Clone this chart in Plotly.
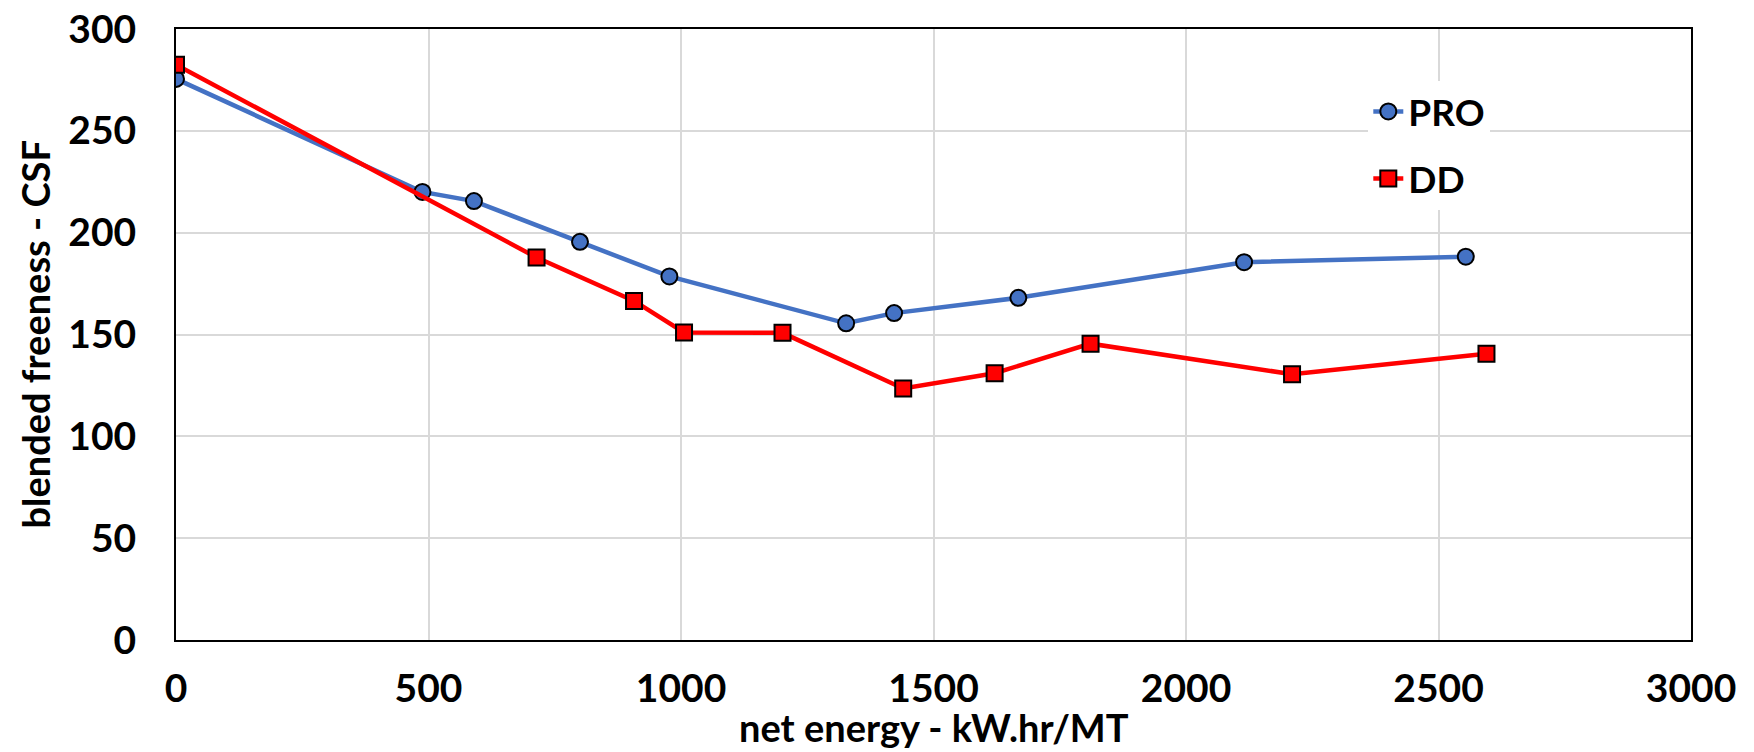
import plotly.graph_objects as go

pro_x = [0, 488, 590, 800, 977, 1327, 1422, 1668, 2115, 2554]
pro_y = [275.5, 220, 215.5, 195.5, 178.5, 155.5, 160.5, 168, 185.5, 188.2]
dd_x = [0, 714, 907, 1006, 1201, 1440, 1621, 1811, 2210, 2595]
dd_y = [282.5, 187.8, 166.5, 151, 150.8, 123.5, 131, 145.5, 130.5, 140.5]

x_ticks = [0, 500, 1000, 1500, 2000, 2500, 3000]
y_ticks = [0, 50, 100, 150, 200, 250, 300]

x_title = "net energy - kW.hr/MT"
y_title = "blended freeness - CSF"

FONT = "Lato"

fig = go.Figure()
fig.add_trace(go.Scatter(
    x=pro_x, y=pro_y, name="PRO", mode="lines+markers", legendgroup="a",
    line=dict(color="#4472C4", width=4.5),
    marker=dict(symbol="circle", size=16, color="#4472C4", line=dict(color="black", width=2)),
))
fig.add_trace(go.Scatter(
    x=dd_x, y=dd_y, name="DD", mode="lines+markers", legendgroup="b",
    line=dict(color="#FF0000", width=4.5),
    marker=dict(symbol="square", size=16, color="#FF0000", line=dict(color="black", width=2)),
))

fig.update_layout(
    width=1746, height=744,
    margin=dict(l=168, r=63, t=21, b=112, autoexpand=False),
    paper_bgcolor="white", plot_bgcolor="white",
    font=dict(family=FONT, color="black", size=38),
    showlegend=True,
    legend=dict(
        x=0.787, y=0.915, xanchor="left", yanchor="top",
        bgcolor="white", font=dict(family=FONT, size=37, weight="bold"),
        tracegroupgap=16, traceorder="grouped",
    ),
    xaxis=dict(
        range=[0, 3000], tickvals=x_ticks, ticktext=[str(v) for v in x_ticks],
        showgrid=True, gridcolor="#D9D9D9", gridwidth=2,
        showline=True, linecolor="black", linewidth=2, mirror=True,
        zeroline=False, ticks="", ticklabelstandoff=13, automargin=False,
        ticklabeloverflow="allow",
        tickfont=dict(family=FONT, size=39, weight="bold"),
    ),
    yaxis=dict(
        range=[0, 300], tickvals=y_ticks, ticktext=[str(v) for v in y_ticks],
        showgrid=True, gridcolor="#D9D9D9", gridwidth=2,
        showline=True, linecolor="black", linewidth=2, mirror=True,
        zeroline=False, ticks="", ticklabelstandoff=30, automargin=False,
        ticklabeloverflow="allow",
        tickfont=dict(family=FONT, size=39, weight="bold"),
    ),
    annotations=[
        dict(text=x_title, xref="paper", yref="paper", x=0.5, y=-0.142,
             xanchor="center", yanchor="middle", showarrow=False,
             font=dict(family=FONT, size=38, weight="bold")),
        dict(text=y_title, xref="paper", yref="paper", x=-0.0937, y=0.5,
             xanchor="center", yanchor="middle", showarrow=False, textangle=-90,
             font=dict(family=FONT, size=38, weight="bold")),
    ],
)

fig.write_html("out.html")
